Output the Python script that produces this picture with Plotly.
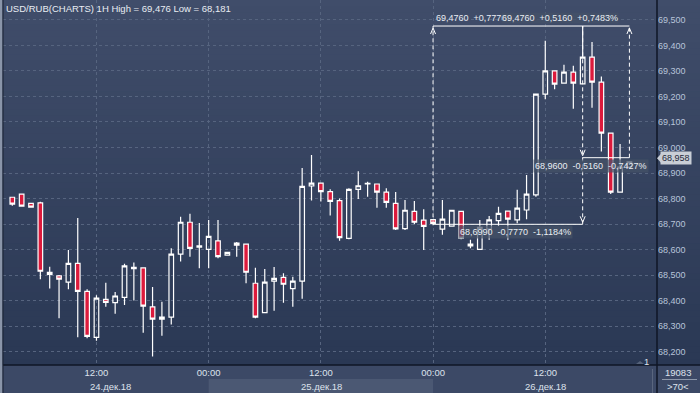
import pandas as pd
import plotly.graph_objects as go

# ---------------- data ----------------
times = pd.date_range("2018-12-24 03:00", periods=67, freq="h")

open_ = [68.805, 68.817, 68.781, 68.783, 68.511, 68.497, 68.472, 68.546, 68.436, 68.256,
         68.405, 68.392, 68.413, 68.525, 68.528, 68.375, 68.327, 68.335, 68.582, 68.707,
         68.609, 68.601, 68.634, 68.578, 68.625, 68.621, 68.468, 68.353, 68.476, 68.491,
         68.447, 68.476, 68.849, 68.860, 68.827, 68.792, 68.644, 68.836, 68.857, 68.857,
         68.825, 68.781, 68.682, 68.750, 68.715, 68.717, 68.680, 68.692, 68.750, 68.614,
         68.601, 68.680, 68.713, 68.751, 68.716, 68.755, 68.814, 69.209, 69.300, 69.252,
         69.295, 69.249, 69.354, 69.256, 69.056, 68.825, 68.923]
high = [68.805, 68.817, 68.781, 68.787, 68.533, 68.500, 68.598, 68.724, 68.444, 68.421,
        68.470, 68.434, 68.544, 68.549, 68.528, 68.453, 68.395, 68.605, 68.729, 68.740,
        68.704, 68.716, 68.716, 68.589, 68.630, 68.621, 68.529, 68.524, 68.532, 68.507,
        68.493, 68.920, 68.971, 68.860, 68.836, 68.800, 68.840, 68.907, 68.866, 68.857,
        68.840, 68.826, 68.794, 68.790, 68.758, 68.717, 68.794, 68.754, 68.750, 68.638,
        68.716, 68.732, 68.768, 68.751, 68.834, 68.892, 69.209, 69.418, 69.300, 69.324,
        69.320, 69.476, 69.413, 69.278, 69.056, 69.014, 68.946]
low = [68.772, 68.770, 68.766, 68.484, 68.447, 68.331, 68.444, 68.256, 68.252, 68.243,
       68.376, 68.348, 68.383, 68.400, 68.274, 68.181, 68.262, 68.306, 68.553, 68.572,
       68.527, 68.527, 68.566, 68.578, 68.572, 68.468, 68.331, 68.350, 68.360, 68.392,
       68.376, 68.407, 68.792, 68.788, 68.733, 68.635, 68.640, 68.798, 68.807, 68.764,
       68.764, 68.677, 68.677, 68.699, 68.598, 68.695, 68.658, 68.692, 68.640, 68.605,
       68.598, 68.638, 68.692, 68.638, 68.703, 68.719, 68.807, 69.189, 69.228, 69.252,
       69.152, 69.249, 69.156, 68.984, 68.818, 68.825, 68.921]
close = [68.778, 68.770, 68.766, 68.515, 68.503, 68.484, 68.546, 68.436, 68.260, 68.410,
         68.393, 68.418, 68.536, 68.530, 68.378, 68.327, 68.335, 68.582, 68.707, 68.605,
         68.615, 68.652, 68.572, 68.589, 68.617, 68.511, 68.335, 68.472, 68.487, 68.464,
         68.476, 68.848, 68.860, 68.827, 68.789, 68.647, 68.836, 68.850, 68.859, 68.825,
         68.785, 68.681, 68.754, 68.707, 68.691, 68.703, 68.719, 68.754, 68.645, 68.621,
         68.687, 68.716, 68.742, 68.719, 68.762, 68.817, 69.209, 69.300, 69.248, 69.295,
         69.252, 69.354, 69.256, 69.056, 68.825, 68.923, 68.944]

tick_times = ["2018-12-24 12:00", "2018-12-25 00:00", "2018-12-25 12:00",
              "2018-12-26 00:00", "2018-12-26 12:00"]
tick_labels = ["12:00", "00:00", "12:00", "00:00", "12:00"]
date_times = ["2018-12-24 12:00", "2018-12-25 12:00", "2018-12-26 12:00"]
date_labels = ["24.дек.18", "25.дек.18", "26.дек.18"]
day_band = ["2018-12-25 00:00", "2018-12-26 00:00"]

measure_times = ["2018-12-26 00:00", "2018-12-26 16:00", "2018-12-26 21:00"]
measure_prices = [68.699, 69.476, 68.960]
last_price = 68.958
bar_count = "19083"
zoom_text = ">70<"
symbol = "USD/RUB(CHARTS) 1H"

# ---------------- geometry helpers (layout only) ----------------
W, H = 700, 393
L, R, T, B = 3, 43, 0, 28
PW, PH = W - L - R, H - T - B


def px_x(px):
    return (px - L) / PW


def px_y(py):
    return (H - B - py) / PH


def fmt(v, d):
    return f"{v:.{d}f}".replace(".", ",")


def fmt_signed(v, d):
    s = "+" if v >= 0 else "-"
    return s + fmt(abs(v), d)


t0 = times[0]
x_range = [t0 - pd.Timedelta(hours=0.995), t0 + pd.Timedelta(hours=68.95)]
y_range = [68.1476, 69.578]

fig = go.Figure()
fig.add_trace(go.Candlestick(
    x=times, open=open_, high=high, low=low, close=close,
    increasing=dict(line=dict(color="#ffffff", width=1.2), fillcolor="rgba(0,0,0,0)"),
    decreasing=dict(line=dict(color="#ffffff", width=1.2), fillcolor="#dc1a3c"),
    whiskerwidth=0, showlegend=False, hoverinfo="skip",
))

shapes = []
# vertical gradient background
N = 60
top_c = (0x40, 0x4d, 0x6a)
bot_c = (0x2a, 0x38, 0x54)
for i in range(N):
    f = (i + 0.5) / N
    c = tuple(round(bot_c[k] + (top_c[k] - bot_c[k]) * f) for k in range(3))
    shapes.append(dict(type="rect", xref="paper", yref="paper",
                       x0=px_x(0), x1=px_x(W), y0=i / N, y1=(i + 1) / N + 0.002,
                       fillcolor="rgb(%d,%d,%d)" % c, line=dict(width=0), layer="below"))
# lighter band under day 25
shapes.append(dict(type="rect", xref="x", yref="paper", x0=day_band[0], x1=day_band[1],
                   y0=px_y(H), y1=px_y(379), fillcolor="#4b5873", line=dict(width=0), layer="below"))
# left border strip
shapes.append(dict(type="rect", xref="paper", yref="paper", x0=px_x(0), x1=px_x(2.5),
                   y0=px_y(H), y1=px_y(0), fillcolor="#8a95a9", line=dict(width=0), layer="below"))
# separators
sep = "#0f1626"
shapes += [
    dict(type="line", xref="paper", yref="paper", x0=px_x(3), x1=px_x(W), y0=0, y1=0,
         line=dict(color=sep, width=1.5), layer="above"),
    dict(type="line", xref="paper", yref="paper", x0=1, x1=1, y0=px_y(H), y1=px_y(0),
         line=dict(color=sep, width=1.5), layer="above"),
    dict(type="line", xref="paper", yref="paper", x0=px_x(3), x1=px_x(3), y0=px_y(H), y1=px_y(0),
         line=dict(color="#1b2333", width=1), layer="above"),
    dict(type="line", xref="paper", yref="paper", x0=px_x(652.5), x1=px_x(652.5),
         y0=px_y(H), y1=px_y(369), line=dict(color="#5a667e", width=1), layer="above"),
    dict(type="line", xref="paper", yref="paper", x0=px_x(662), x1=px_x(697),
         y0=px_y(379.5), y1=px_y(379.5), line=dict(color="#8d98ab", width=1), layer="above"),
]
# small marker triangle near "1"
shapes.append(dict(type="path", xref="paper", yref="paper", xsizemode="pixel", ysizemode="pixel",
                   xanchor=px_x(640), yanchor=px_y(364), path="M -4,0 L 0,3 L 4,0 Z",
                   fillcolor="#55627a", line=dict(width=0)))

# measurement tool
m0, m1, m2 = measure_times
p0, p1, p2 = measure_prices
dash = dict(color="#ffffff", width=1, dash="4px,3px")
solid = dict(color="#ffffff", width=1)
shapes += [
    dict(type="line", xref="x", yref="y", x0=m0, x1=m0, y0=p0, y1=p1, line=dash),
    dict(type="line", xref="x", yref="y", x0=m1, x1=m1, y0=p0, y1=p1, line=dash),
    dict(type="line", xref="x", yref="y", x0=m2, x1=m2, y0=p2, y1=p1, line=dash),
    dict(type="line", xref="x", yref="y", x0=m0, x1=m2, y0=p1, y1=p1, line=solid),
    dict(type="line", xref="x", yref="y", x0=m0, x1=m1, y0=p0, y1=p0, line=solid),
    dict(type="line", xref="x", yref="y", x0=m1, x1=m2, y0=p2, y1=p2, line=solid),
]
up_arrow = "M -2.5,-8 L 0,-2 L 2.5,-8"
down_arrow = "M -2.5,8 L 0,2 L 2.5,8"
for (mt, mp, pth) in [(m0, p1, up_arrow), (m2, p1, up_arrow), (m1, p0, down_arrow), (m1, p2, down_arrow)]:
    shapes.append(dict(type="path", xref="x", yref="y", xsizemode="pixel", ysizemode="pixel",
                       xanchor=mt, yanchor=mp, path=pth, line=dict(color="#ffffff", width=1)))
# last price pointer
shapes.append(dict(type="path", xref="paper", yref="y", xsizemode="pixel", ysizemode="pixel",
                   xanchor=1, yanchor=last_price, path="M 0,0 L 4,4.5 L 4,-4.5 Z",
                   fillcolor="#c9ced6", line=dict(width=0), layer="above"))

txt = "#e9edf3"
font = "Liberation Sans, Arial, sans-serif"
sp = "\u00a0\u00a0"
ann = []
ann.append(dict(text=f"{symbol} High = {fmt(max(high), 3)} Low = {fmt(min(low), 3)}",
                xref="paper", yref="paper", x=0, y=1, xanchor="left", yanchor="top",
                xshift=1, yshift=-1, showarrow=False, font=dict(size=9.5, color=txt, family=font)))
# measurement labels
d1 = p1 - p0
d2 = p2 - p1
ann.append(dict(text=f"{fmt(p1, 4)}{sp}{fmt_signed(d1, 4)}",
                xref="x", yref="y", x=m0, y=p1, xanchor="left", yanchor="middle", xshift=1, yshift=8,
                showarrow=False, font=dict(size=9, color=txt, family=font)))
ann.append(dict(text=f"{fmt(p1, 4)}{sp}{fmt_signed(-d2, 4)}{sp}{fmt_signed(-d2 / p2 * 100, 4)}%",
                xref="x", yref="y", x=m2, y=p1, xanchor="right", yanchor="middle", xshift=-10, yshift=8,
                showarrow=False, bgcolor="rgba(70,82,104,0.75)", borderpad=0,
                font=dict(size=9, color=txt, family=font)))
ann.append(dict(text=f"{fmt(p0, 4)}{sp}{fmt_signed(-d1, 4)}{sp}{fmt_signed(-d1 / p1 * 100, 4)}%",
                xref="x", yref="y", x=m1, y=p0, xanchor="right", yanchor="middle", xshift=-10, yshift=-8,
                showarrow=False, bgcolor="rgba(70,82,104,0.7)", borderpad=1,
                font=dict(size=9, color=txt, family=font)))
ann.append(dict(text=f"{fmt(p2, 4)}{sp}{fmt_signed(d2, 4)}{sp}{fmt_signed(d2 / p1 * 100, 4)}%",
                xref="x", yref="y", x=m2, y=p2, xanchor="right", yanchor="middle", xshift=20, yshift=-8,
                showarrow=False, bgcolor="rgba(70,82,104,0.7)", borderpad=1,
                font=dict(size=9, color=txt, family=font)))
# date labels
axis_txt = "#dce2ec"
for dt, lab, xs in zip(date_times, date_labels, [14, 1, 0]):
    ann.append(dict(text=lab, xref="x", yref="paper", x=dt, y=px_y(386), xanchor="center",
                    yanchor="middle", xshift=xs, showarrow=False,
                    font=dict(size=9.5, color=axis_txt, family=font)))
# bottom-right box
ann.append(dict(text=bar_count, xref="paper", yref="paper", x=px_x(678), y=px_y(373),
                xanchor="center", yanchor="middle", showarrow=False,
                font=dict(size=9.5, color=axis_txt, family=font)))
ann.append(dict(text=zoom_text, xref="paper", yref="paper", x=px_x(678), y=px_y(386),
                xanchor="center", yanchor="middle", showarrow=False,
                font=dict(size=9.5, color=axis_txt, family=font)))
ann.append(dict(text="1", xref="paper", yref="paper", x=px_x(646), y=px_y(361),
                xanchor="center", yanchor="middle", showarrow=False,
                font=dict(size=9.5, color=axis_txt, family=font)))
# last price marker
ann.append(dict(text=fmt(last_price, 3), xref="paper", yref="y", x=px_x(660), y=last_price,
                xanchor="left", yanchor="middle", showarrow=False, bgcolor="#c9ced6",
                borderpad=1, font=dict(size=9, color="#1f2839", family=font)))

grid = "#56647f"
fig.update_layout(
    width=W, height=H,
    margin=dict(l=L, r=R, t=T, b=B, pad=0),
    paper_bgcolor="#3c4966",
    plot_bgcolor="rgba(0,0,0,0)",
    separators=", ",
    font=dict(family=font, color=axis_txt),
    boxgap=0.3,
    shapes=shapes,
    annotations=ann,
    xaxis=dict(type="date", range=x_range, rangeslider=dict(visible=False),
               tickmode="array", tickvals=tick_times, ticktext=tick_labels,
               showgrid=True, gridcolor=grid, griddash="3px,3px", gridwidth=1,
               showline=False, zeroline=False, ticks="",
               tickfont=dict(size=9.5, color=axis_txt, family=font)),
    yaxis=dict(range=y_range, side="right", dtick=0.1, tick0=68.0, tickformat=".3f",
               showgrid=True, gridcolor=grid, griddash="3px,3px", gridwidth=1,
               showline=False, zeroline=False, ticks="",
               tickfont=dict(size=9, color="#b7c4d9", family=font)),
)

fig.write_html("out.html", config={"displayModeBar": False},
               post_script="document.body.style.margin='0';document.body.style.overflow='hidden';")
